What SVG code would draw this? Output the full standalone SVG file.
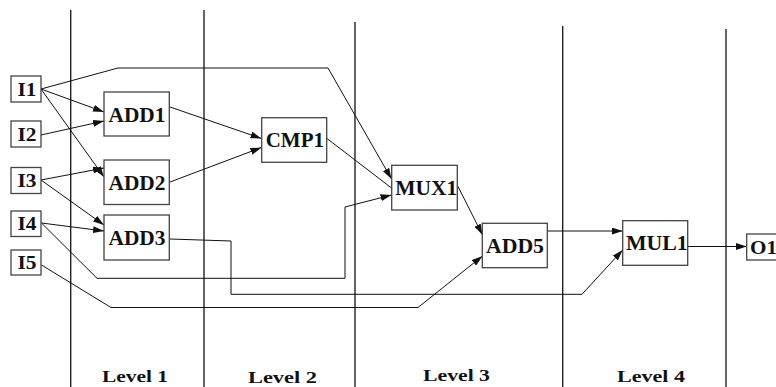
<svg xmlns="http://www.w3.org/2000/svg" width="776" height="387" viewBox="0 0 776 387">
<style>
.lvl{stroke:#222;stroke-width:1.4;fill:none}
.box{fill:#fff;stroke:#444;stroke-width:1.3}
.c{fill:none;stroke:#111;stroke-width:1}
.t{font-family:"Liberation Serif","Times New Roman",serif;font-weight:bold;font-size:20px;fill:#111}
.ti{font-family:"Liberation Serif","Times New Roman",serif;font-weight:bold;font-size:18.5px;fill:#111}
.tl{font-family:"Liberation Serif","Times New Roman",serif;font-weight:bold;font-size:17.5px;fill:#111}
</style>
<defs>
<marker id="ah" markerWidth="11" markerHeight="7" refX="11" refY="3.5" orient="auto" markerUnits="userSpaceOnUse"><path d="M0,0 L11,3.5 L0,7 z" fill="#111"/></marker>
</defs>
<rect width="776" height="387" fill="#fff"/>
<g id="levels">
<line class="lvl" x1="70.7" y1="10" x2="70.7" y2="387"/>
<line class="lvl" x1="204" y1="10" x2="204" y2="387"/>
<line class="lvl" x1="355" y1="22" x2="355" y2="387"/>
<line class="lvl" x1="562.7" y1="26" x2="562.7" y2="387"/>
<line class="lvl" x1="726" y1="29" x2="726" y2="387"/>
<text class="tl" x="102" y="382" textLength="66" lengthAdjust="spacingAndGlyphs">Level 1</text>
<text class="tl" x="248" y="383" textLength="69" lengthAdjust="spacingAndGlyphs">Level 2</text>
<text class="tl" x="423" y="381" textLength="67" lengthAdjust="spacingAndGlyphs">Level 3</text>
<text class="tl" x="617" y="382" textLength="68" lengthAdjust="spacingAndGlyphs">Level 4</text>
</g>
<g id="connectors">
<path class="c" d="M41,89 L104,112" marker-end="url(#ah)"/>
<path class="c" d="M41,89 L104,177" marker-end="url(#ah)"/>
<path class="c" d="M41,89 L118,68 L328,68 L391.5,179" marker-end="url(#ah)"/>
<path class="c" d="M41,135 L104,121" marker-end="url(#ah)"/>
<path class="c" d="M41,180 L104,168" marker-end="url(#ah)"/>
<path class="c" d="M41,180 L104,225" marker-end="url(#ah)"/>
<path class="c" d="M41.5,223 L104,231" marker-end="url(#ah)"/>
<path class="c" d="M41.5,223 L97,278.3 L345,278.3 L345,207 L391.5,195" marker-end="url(#ah)"/>
<path class="c" d="M41.5,265 L111,307.5 L418,307.5 L482.5,256" marker-end="url(#ah)"/>
<path class="c" d="M170,239 L231,241 L231,294.3 L582,294.3 L622.7,250" marker-end="url(#ah)"/>
<path class="c" d="M170,107 L261.5,138.5" marker-end="url(#ah)"/>
<path class="c" d="M170,182 L261.5,147.5" marker-end="url(#ah)"/>
<path class="c" d="M327,138.5 L391.5,188"/>
<path class="c" d="M458,186.5 L482.5,235" marker-end="url(#ah)"/>
<path class="c" d="M548,231 L622.7,231" marker-end="url(#ah)"/>
<path class="c" d="M688,246.5 L746.7,246.5" marker-end="url(#ah)"/>
</g>
<g id="I1"><rect class="box" x="11" y="76" width="30" height="26"/><text class="ti" x="17.5" y="95.5" textLength="19" lengthAdjust="spacingAndGlyphs">I1</text></g>
<g id="I2"><rect class="box" x="11" y="121" width="30" height="26"/><text class="ti" x="17.5" y="140.5" textLength="19" lengthAdjust="spacingAndGlyphs">I2</text></g>
<g id="I3"><rect class="box" x="11" y="167.5" width="30" height="26"/><text class="ti" x="17.5" y="187" textLength="19" lengthAdjust="spacingAndGlyphs">I3</text></g>
<g id="I4"><rect class="box" x="11" y="211" width="30" height="25.5"/><text class="ti" x="17.5" y="230" textLength="19" lengthAdjust="spacingAndGlyphs">I4</text></g>
<g id="I5"><rect class="box" x="11" y="250" width="30" height="25"/><text class="ti" x="17.5" y="269" textLength="19" lengthAdjust="spacingAndGlyphs">I5</text></g>
<g id="ADD1"><rect class="box" x="104" y="92" width="65.3" height="44"/><text class="t" x="108.5" y="122" textLength="57" lengthAdjust="spacingAndGlyphs">ADD1</text></g>
<g id="ADD2"><rect class="box" x="104" y="160" width="65.3" height="44.5"/><text class="t" x="108.5" y="190" textLength="57" lengthAdjust="spacingAndGlyphs">ADD2</text></g>
<g id="ADD3"><rect class="box" x="104" y="215" width="65.3" height="45"/><text class="t" x="108.5" y="245" textLength="57" lengthAdjust="spacingAndGlyphs">ADD3</text></g>
<g id="CMP1"><rect class="box" x="261.7" y="117.7" width="65" height="44.6"/><text class="t" x="265.7" y="147" textLength="58.3" lengthAdjust="spacingAndGlyphs">CMP1</text></g>
<g id="MUX1"><rect class="box" x="391.7" y="165.3" width="65.6" height="44.7"/><text class="t" x="395.3" y="195" textLength="62" lengthAdjust="spacingAndGlyphs">MUX1</text></g>
<g id="ADD5"><rect class="box" x="482.3" y="223.3" width="65" height="44.4"/><text class="t" x="486" y="252.5" textLength="58" lengthAdjust="spacingAndGlyphs">ADD5</text></g>
<g id="MUL1"><rect class="box" x="622.7" y="220.7" width="65" height="44.6"/><text class="t" x="626" y="249.5" textLength="61.7" lengthAdjust="spacingAndGlyphs">MUL1</text></g>
<g id="O1"><rect class="box" x="746.7" y="234" width="34" height="26"/><text class="ti" x="750" y="253.5" textLength="27" lengthAdjust="spacingAndGlyphs">O1</text></g>
</svg>
